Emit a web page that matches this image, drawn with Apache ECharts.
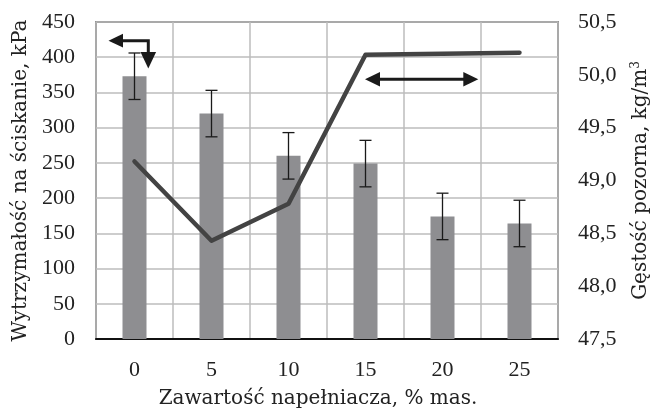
<!DOCTYPE html>
<html><head><meta charset="utf-8">
<script src="https://cdn.jsdelivr.net/npm/echarts@6/dist/echarts.min.js"></script>
<style>html,body{margin:0;padding:0;background:#fff}#c{width:655px;height:410px}</style>
</head><body><div id="c"></div>
<script>
const categories = ['0','5','10','15','20','25'];
const strength = [373, 320, 260, 249, 174, 164];
const strengthErr = [33, 33, 33, 33, 33, 33];
const density = [49.18, 48.43, 48.78, 50.19, 50.20, 50.21];

const FONT = 'Liberation Serif';
const NFONT = 'DejaVu Serif';
const chart = echarts.init(document.getElementById('c'));
const errData = strength.map((v, i) => [i, v - strengthErr[i], v + strengthErr[i]]);

chart.setOption({
  animation: false,
  textStyle: {fontFamily: FONT},
  grid: {left: 96, right: 97, top: 22, bottom: 71, show: true, borderColor: '#404040', borderWidth: 1.5,
    containLabel: false, outerBoundsMode: 'none'},
  xAxis: {
    type: 'category', data: categories,
    name: 'Zawartość napełniacza, % mas.', nameLocation: 'middle', nameGap: 50,
    nameTextStyle: {fontFamily: NFONT, fontSize: 20, color: '#222', padding: [0, 18, 0, 0]},
    axisLine: {lineStyle: {color: '#111', width: 2}},
    axisTick: {show: false},
    axisLabel: {fontFamily: FONT, fontSize: 22, color: '#222', margin: 20},
    splitLine: {show: true, lineStyle: {color: '#bdbdbd', width: 1.5}}
  },
  yAxis: [{
    type: 'value', min: 0, max: 450, interval: 50,
    name: 'Wytrzymałość na ściskanie, kPa', nameLocation: 'middle', nameGap: 64,
    nameTextStyle: {fontFamily: NFONT, fontSize: 20, color: '#222'},
    axisLine: {show: false}, axisTick: {show: false},
    axisLabel: {fontFamily: FONT, fontSize: 22, color: '#222', margin: 21},
    splitLine: {show: true, lineStyle: {color: '#bdbdbd', width: 1.5}}
  }, {
    type: 'value', min: 47.5, max: 50.5, interval: 0.5, position: 'right',
    name: 'Gęstość pozorna, kg/m{sup|3}', nameLocation: 'middle', nameGap: 72,
    nameRotate: 90,
    nameTextStyle: {fontFamily: NFONT, fontSize: 20, color: '#222',
      rich: {sup: {fontFamily: NFONT, fontSize: 12, verticalAlign: 'top', padding: [0,0,10,0], color: '#222'}}},
    axisLine: {show: false}, axisTick: {show: false},
    axisLabel: {fontFamily: FONT, fontSize: 22, color: '#222', margin: 20,
      formatter: v => v.toFixed(1).replace('.', ',')},
    splitLine: {show: false}
  }],
  series: [{
    type: 'bar', data: strength, barWidth: 24, yAxisIndex: 0,
    itemStyle: {color: '#8e8e91'}, z: 2
  }, {
    type: 'custom', yAxisIndex: 0, data: errData, z: 3,
    renderItem: (params, api) => {
      const x = api.value(0);
      const lo = api.coord([x, api.value(1)]);
      const hi = api.coord([x, api.value(2)]);
      const w = 6;
      const st = {stroke: '#1a1a1a', lineWidth: 1.3};
      return {type: 'group', children: [
        {type: 'line', shape: {x1: lo[0], y1: lo[1], x2: hi[0], y2: hi[1]}, style: st},
        {type: 'line', shape: {x1: lo[0]-w, y1: lo[1], x2: lo[0]+w, y2: lo[1]}, style: st},
        {type: 'line', shape: {x1: hi[0]-w, y1: hi[1], x2: hi[0]+w, y2: hi[1]}, style: st}
      ]};
    }
  }, {
    type: 'line', data: density, yAxisIndex: 1, showSymbol: false, z: 4,
    lineStyle: {color: '#434343', width: 4.5, cap: 'round', join: 'round'}
  }],
  graphic: [
    {type: 'polyline', shape: {points: [[121, 40.7], [148.3, 40.7], [148.3, 54]]}, style: {stroke: '#1a1a1a', lineWidth: 3, fill: null}, z: 10},
    {type: 'polygon', shape: {points: [[108.5, 40.7], [123, 33.8], [123, 47.6]]}, style: {fill: '#1a1a1a'}, z: 10},
    {type: 'polygon', shape: {points: [[148.3, 68.5], [140.5, 52], [156.1, 52]]}, style: {fill: '#1a1a1a'}, z: 10},
    {type: 'line', shape: {x1: 378, y1: 79.3, x2: 465, y2: 79.3}, style: {stroke: '#1a1a1a', lineWidth: 3}, z: 10},
    {type: 'polygon', shape: {points: [[365, 79.3], [380, 72], [380, 86.6]]}, style: {fill: '#1a1a1a'}, z: 10},
    {type: 'polygon', shape: {points: [[478.3, 79.3], [463.3, 72], [463.3, 86.6]]}, style: {fill: '#1a1a1a'}, z: 10}
  ]
});
</script></body></html>
